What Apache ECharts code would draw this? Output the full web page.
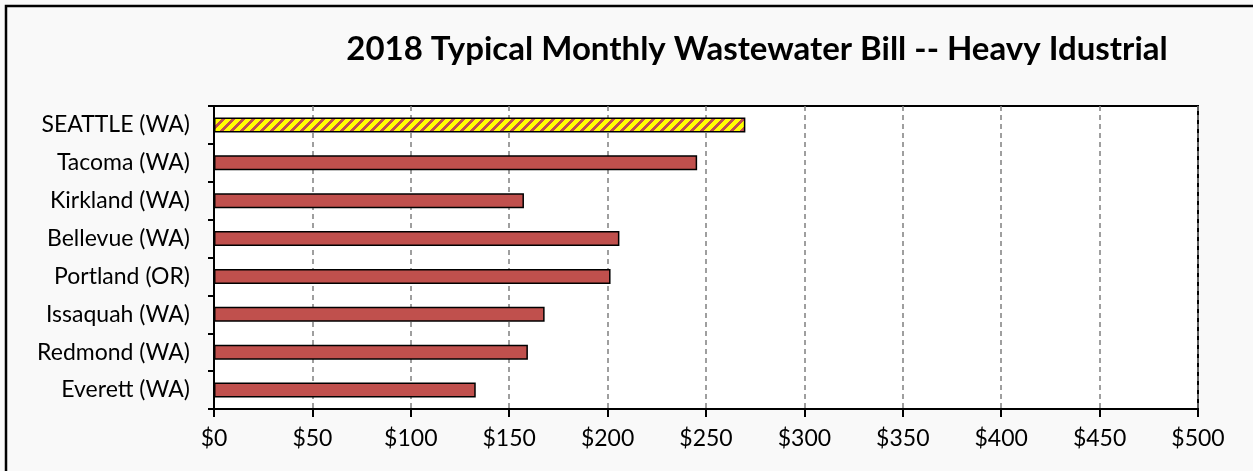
<!DOCTYPE html>
<html>
<head>
<meta charset="utf-8">
<script src="https://cdn.jsdelivr.net/npm/echarts@6/dist/echarts.min.js"></script>
<style>
  html, body { margin: 0; padding: 0; background: #f9f9f9; }
  #chart { width: 1253px; height: 471px; }
</style>
</head>
<body>
<div id="chart"></div>
<script>
const TITLE = "2018 Typical Monthly Wastewater Bill -- Heavy Idustrial";
const cities = ["SEATTLE (WA)", "Tacoma (WA)", "Kirkland (WA)", "Bellevue (WA)", "Portland (OR)", "Issaquah (WA)", "Redmond (WA)", "Everett (WA)"];
const bills = [270, 245.5, 157.5, 206, 201.5, 168, 159.5, 133];
const xTicks = [0, 50, 100, 150, 200, 250, 300, 350, 400, 450, 500];

const FONT = "Lato, 'Open Sans', sans-serif";
const BAR_RED = "#c0504d";

// yellow / red diagonal hatch for Seattle
function hatchPattern() {
  const n = 10;
  const c = document.createElement("canvas");
  c.width = n; c.height = n;
  const ctx = c.getContext("2d");
  const img = ctx.createImageData(n, n);
  for (let y = 0; y < n; y++) {
    for (let x = 0; x < n; x++) {
      const i = (y * n + x) * 4;
      const red = (x + y) % n < 4;
      img.data[i] = red ? 0xc0 : 0xff;
      img.data[i + 1] = red ? 0x50 : 0xff;
      img.data[i + 2] = red ? 0x4d : 0x00;
      img.data[i + 3] = 255;
    }
  }
  ctx.putImageData(img, 0, 0);
  return c;
}

const chart = echarts.init(document.getElementById("chart"));
chart.setOption({
  animation: false,
  backgroundColor: "#f9f9f9",
  title: {
    text: TITLE,
    left: 752, top: 28, textAlign: "center",
    textStyle: { fontFamily: FONT, fontWeight: "bold", fontSize: 33, color: "#000" }
  },
  grid: {
    left: 214, right: 55, top: 106, bottom: 62,
    show: true, backgroundColor: "#fff", borderColor: "#000", borderWidth: 2
  },
  xAxis: {
    type: "value", min: 0, max: 500, interval: 50,
    axisLine: { show: true, lineStyle: { color: "#000", width: 2 } },
    axisTick: { show: true, length: 8, lineStyle: { color: "#000", width: 2 } },
    axisLabel: {
      margin: 18, fontFamily: FONT, fontSize: 23, color: "#000",
      formatter: v => xTicks.includes(v) ? "$" + v : ""
    },
    splitLine: { show: true, lineStyle: { color: "#808080", width: 1.5, type: [5, 4] } }
  },
  yAxis: {
    type: "category", data: cities, inverse: true,
    axisLine: { show: true, lineStyle: { color: "#000", width: 2 } },
    axisTick: { show: true, length: 6, lineStyle: { color: "#000", width: 2 } },
    axisLabel: { margin: 24, fontFamily: FONT, fontSize: 23, color: "#000" }
  },
  series: [{
    type: "bar",
    barWidth: 15,
    data: bills.map((v, i) => ({
      value: v,
      itemStyle: i === 0
        ? { color: { image: hatchPattern(), repeat: "repeat" }, borderColor: "#000", borderWidth: 1.5 }
        : { color: BAR_RED, borderColor: "#000", borderWidth: 1.5 }
    }))
  }],
  graphic: [{
    type: "polyline",
    shape: { points: [[6, 471], [6, 6], [1253, 6]] },
    style: { stroke: "#000", lineWidth: 2.5, fill: null }
  }]
});
</script>
</body>
</html>
